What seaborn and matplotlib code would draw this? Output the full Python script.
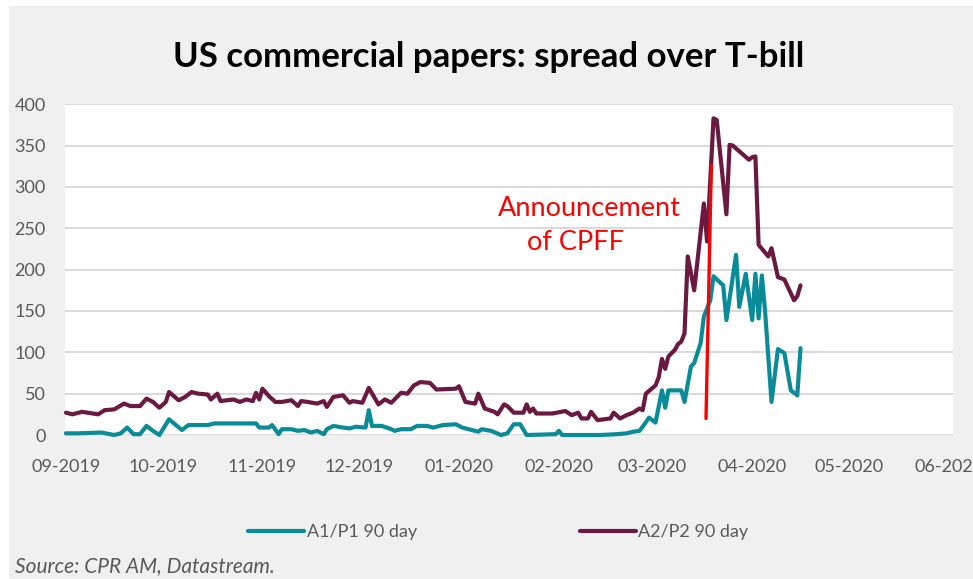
import matplotlib
matplotlib.use("Agg")
import matplotlib.pyplot as plt
import matplotlib.dates as mdates
from matplotlib.patches import Rectangle
from matplotlib.lines import Line2D
import seaborn as sns
import pandas as pd

# ---------------- data ----------------
a1_dates = [
    "2019-09-01", "2019-09-05", "2019-09-12", "2019-09-16", "2019-09-18", "2019-09-20",
    "2019-09-22", "2019-09-24", "2019-09-26", "2019-09-28", "2019-09-30", "2019-10-03",
    "2019-10-07", "2019-10-09", "2019-10-15", "2019-10-17", "2019-10-24", "2019-10-30",
    "2019-10-31", "2019-11-03", "2019-11-04", "2019-11-06", "2019-11-07", "2019-11-10",
    "2019-11-12", "2019-11-14", "2019-11-16", "2019-11-18", "2019-11-20", "2019-11-21",
    "2019-11-23", "2019-11-26", "2019-11-28", "2019-11-30", "2019-12-03", "2019-12-04",
    "2019-12-05", "2019-12-08", "2019-12-11", "2019-12-12", "2019-12-14", "2019-12-17",
    "2019-12-19", "2019-12-22", "2019-12-24", "2019-12-27", "2019-12-31", "2020-01-02",
    "2020-01-04", "2020-01-07", "2020-01-08", "2020-01-11", "2020-01-14", "2020-01-16",
    "2020-01-18", "2020-01-20", "2020-01-22", "2020-01-31", "2020-02-01", "2020-02-02",
    "2020-02-14", "2020-02-19", "2020-02-22", "2020-02-24", "2020-02-26", "2020-02-27",
    "2020-02-29", "2020-03-02", "2020-03-04", "2020-03-05", "2020-03-06", "2020-03-10",
    "2020-03-11", "2020-03-13", "2020-03-14", "2020-03-16", "2020-03-17", "2020-03-19",
    "2020-03-20", "2020-03-23", "2020-03-24", "2020-03-27", "2020-03-28", "2020-03-30",
    "2020-04-01", "2020-04-02", "2020-04-03", "2020-04-04", "2020-04-05", "2020-04-07",
    "2020-04-09", "2020-04-11", "2020-04-13", "2020-04-15", "2020-04-16",
]
a1_values = [
    2, 2, 3, 0, 2, 9,
    1, 1, 11, 5, 0, 19,
    6, 12, 12, 14, 14, 14,
    9, 9, 12, 1, 7, 7,
    5, 6, 3, 5, 1, 7,
    11, 9, 8, 10, 9, 30,
    11, 11, 7, 5, 7, 7,
    11, 11, 9, 12, 13, 9,
    7, 4, 7, 5, 0, 2,
    13, 13, 0, 1, 5, 0,
    0, 1, 2, 4, 5, 10,
    21, 15, 54, 33, 54, 54,
    40, 83, 87, 111, 143, 163,
    192, 181, 139, 218, 155, 195,
    139, 195, 141, 193, 150, 40,
    104, 99, 54, 48, 105,
]

a2_dates = [
    "2019-09-01", "2019-09-03", "2019-09-06", "2019-09-11", "2019-09-13", "2019-09-16",
    "2019-09-19", "2019-09-21", "2019-09-24", "2019-09-26", "2019-09-28", "2019-09-30",
    "2019-10-02", "2019-10-03", "2019-10-06", "2019-10-08", "2019-10-10", "2019-10-12",
    "2019-10-15", "2019-10-16", "2019-10-18", "2019-10-19", "2019-10-23", "2019-10-25",
    "2019-10-27", "2019-10-29", "2019-10-30", "2019-10-31", "2019-11-01", "2019-11-03",
    "2019-11-05", "2019-11-07", "2019-11-10", "2019-11-12", "2019-11-13", "2019-11-15",
    "2019-11-18", "2019-11-20", "2019-11-21", "2019-11-23", "2019-11-26", "2019-11-28",
    "2019-11-29", "2019-12-02", "2019-12-04", "2019-12-07", "2019-12-09", "2019-12-11",
    "2019-12-14", "2019-12-16", "2019-12-18", "2019-12-20", "2019-12-23", "2019-12-25",
    "2019-12-31", "2020-01-01", "2020-01-03", "2020-01-06", "2020-01-07", "2020-01-09",
    "2020-01-12", "2020-01-13", "2020-01-15", "2020-01-16", "2020-01-18", "2020-01-21",
    "2020-01-22", "2020-01-23", "2020-01-24", "2020-01-25", "2020-01-30", "2020-02-03",
    "2020-02-05", "2020-02-07", "2020-02-08", "2020-02-10", "2020-02-11", "2020-02-13",
    "2020-02-17", "2020-02-18", "2020-02-20", "2020-02-22", "2020-02-24", "2020-02-26",
    "2020-02-27", "2020-02-28", "2020-03-02", "2020-03-03", "2020-03-04", "2020-03-05",
    "2020-03-06", "2020-03-08", "2020-03-09", "2020-03-10", "2020-03-11", "2020-03-12",
    "2020-03-14", "2020-03-17", "2020-03-18", "2020-03-20", "2020-03-21", "2020-03-24",
    "2020-03-25", "2020-03-26", "2020-03-31", "2020-04-01", "2020-04-02", "2020-04-03",
    "2020-04-06", "2020-04-07", "2020-04-09", "2020-04-11", "2020-04-14", "2020-04-15",
    "2020-04-16",
]
a2_values = [
    27, 25, 28, 25, 30, 31,
    38, 35, 35, 44, 40, 33,
    40, 52, 42, 46, 52, 50,
    49, 43, 50, 41, 43, 40,
    43, 41, 51, 43, 56, 47,
    40, 40, 42, 35, 41, 40,
    38, 41, 34, 46, 48, 39,
    41, 39, 57, 37, 43, 39,
    51, 50, 60, 64, 63, 55,
    56, 59, 40, 38, 50, 32,
    28, 25, 37, 35, 27, 27,
    37, 28, 32, 26, 26, 29,
    24, 27, 20, 20, 28, 18,
    20, 27, 20, 24, 27, 32,
    30, 50, 60, 70, 92, 80,
    95, 103, 110, 113, 123, 216,
    175, 280, 234, 383, 381, 267,
    351, 350, 333, 336, 337, 230,
    216, 226, 191, 188, 163, 168,
    181,
]

series_names = ["A1/P1 90 day", "A2/P2 90 day"]
series_colors = ["#0A8C98", "#6B1941"]
y_ticks = [0, 50, 100, 150, 200, 250, 300, 350, 400]
month_ticks = pd.date_range("2019-09-01", "2020-06-01", freq="MS")
x_limits = ["2019-08-31 17:00", "2020-06-02 08:00"]

# CPFF announcement marker (red line end points)
cpff_dates = ["2020-03-17 16:00", "2020-03-19 08:00"]
cpff_values = [20, 326]

title_text = "US commercial papers: spread over T-bill"
source_text = "Source: CPR AM, Datastream."

# ---------------- build table ----------------
df = pd.concat([
    pd.DataFrame({"date": pd.to_datetime(a1_dates), "value": a1_values, "series": series_names[0]}),
    pd.DataFrame({"date": pd.to_datetime(a2_dates), "value": a2_values, "series": series_names[1]}),
], ignore_index=True)

# ---------------- style ----------------
sns.set_theme(style="white")
plt.rcParams["font.family"] = ["Lato", "DejaVu Sans"]

W, H = 973, 579
fig = plt.figure(figsize=(W / 100, H / 100), dpi=100, facecolor="white")
fig.patches.append(Rectangle((9 / W, 0), 1, 1 - 6 / H, transform=fig.transFigure,
                             facecolor="#F0F0F0", edgecolor="none", zorder=-10))

ax = fig.add_axes([65 / W, 1 - 435 / H, 888 / W, 330.7 / H])
ax.set_facecolor("white")

palette = dict(zip(series_names, series_colors))
sns.lineplot(data=df, x="date", y="value", hue="series", palette=palette,
             linewidth=3.0, ax=ax, legend=False, estimator=None, sort=True)
for ln in ax.get_lines():
    ln.set_solid_joinstyle("round")
    ln.set_clip_on(False)

# red vertical marker
ax.plot(pd.to_datetime(cpff_dates), cpff_values, color="#FF0000", linewidth=2.4, zorder=5)
ax.text(0.591, 0.686, "Announcement", transform=ax.transAxes, color="#FF0000",
        fontsize=19.5, ha="center", va="center")
ax.text(0.575, 0.581, "of CPFF", transform=ax.transAxes, color="#FF0000",
        fontsize=19.5, ha="center", va="center")

ax.set_ylim(0, 400)
ax.set_yticks(y_ticks)
ax.set_xlim(pd.to_datetime(x_limits[0]), pd.to_datetime(x_limits[1]))
ax.set_xticks(month_ticks)
ax.xaxis.set_major_formatter(mdates.DateFormatter("%m-%Y"))
ax.set_xlabel("")
ax.set_ylabel("")

ax.yaxis.grid(True, color="#D9D9D9", linewidth=1.4)
ax.xaxis.grid(False)
ax.set_axisbelow(True)
for s in ax.spines.values():
    s.set_visible(False)
ax.tick_params(axis="y", length=0, pad=14, labelsize=13, labelcolor="#595959")
ax.tick_params(axis="x", length=0, pad=17, labelsize=13, labelcolor="#595959")
for lbl in ax.get_xticklabels():
    lbl.set_clip_on(False)

# title
fig.text(488.5 / W, 1 - 57 / H, title_text, ha="center", va="center",
         fontsize=25, fontweight="bold", color="black")

# legend
handles = [Line2D([0], [0], color=c, linewidth=3.0) for c in series_colors]
fig.legend(handles, series_names, loc="center", bbox_to_anchor=(498.5 / W, 1 - 532 / H),
           ncol=2, frameon=False, handlelength=3.1, handletextpad=0.15,
           columnspacing=9.0, fontsize=13, labelcolor="#595959")

# source
fig.text(15 / W, 1 - 566 / H, source_text, ha="left", va="center",
         fontsize=15, style="italic", color="#595959")

fig.savefig("out.png", dpi=100, facecolor=fig.get_facecolor())
